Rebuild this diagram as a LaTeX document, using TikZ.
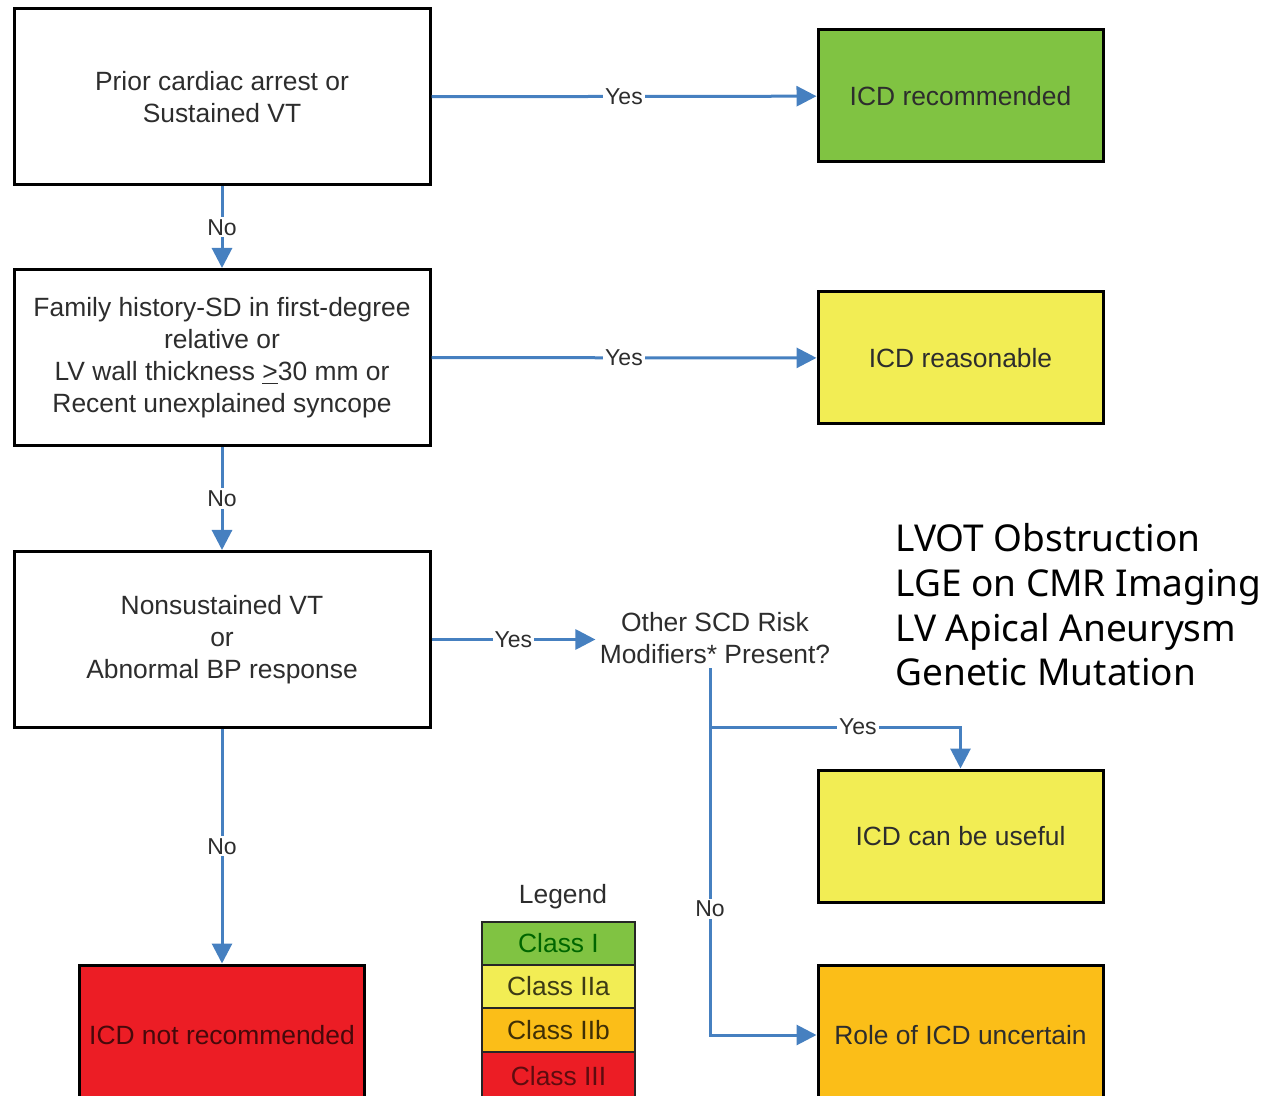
\documentclass[tikz,border=0pt]{standalone}
\usepackage{fontspec}
\setmainfont{Liberation Sans}
\newfontfamily\listfont{Noto Sans}
\usetikzlibrary{positioning, arrows.meta, calc}
\definecolor{cArrow}{RGB}{70,128,192}
\definecolor{cGreen}{RGB}{128,195,66}
\definecolor{cYellow}{RGB}{242,237,84}
\definecolor{cOrange}{RGB}{251,190,24}
\definecolor{cRed}{RGB}{236,29,37}
\definecolor{cText}{RGB}{45,45,45}

\begin{document}
\begin{tikzpicture}[x=0.5pt, y=-0.5pt,
    every node/.style={font=\fontsize{13.2}{16}\selectfont, text=cText},
    question/.style={draw=black, line width=1.5pt, fill=white, align=center,
                     minimum width=208pt, minimum height=88pt, inner sep=2pt},
    outcome/.style={draw=black, line width=1.5pt, align=center,
                    minimum width=142.5pt, minimum height=66pt, inner sep=2pt},
    legendrow/.style={draw=black!85, line width=0.8pt, minimum width=76.5pt,
                      minimum height=21.75pt, inner sep=0pt},
    flow/.style={draw=cArrow, line width=1.5pt, -{Triangle[length=10pt, width=10pt]}},
    answer/.style={fill=white, inner sep=1pt, font=\fontsize{11.5}{13}\selectfont}]

    \useasboundingbox (0,0) rectangle (1264,1096);
    \clip (0,0) rectangle (1264,1096);

    % Decision boxes on the left
    \node[question] (arrest) at (222,97) {Prior cardiac arrest or\\Sustained VT};
    \node[question] (family) at (222,357.5) {Family history-SD in first-degree\\relative or\\LV wall thickness \underline{>}30 mm or\\Recent unexplained syncope};
    \node[question] (nsvt) at (222,639.5) {Nonsustained VT\\or\\Abnormal BP response};
    \node[align=center, inner sep=2pt] (modifiers) at (715,638) {Other SCD Risk\\Modifiers* Present?};

    % Outcome boxes
    \node[outcome, fill=cGreen] (recommended) at (960.5,96) {ICD recommended};
    \node[outcome, fill=cYellow] (reasonable) at (960.5,358) {ICD reasonable};
    \node[outcome, fill=cYellow] (useful) at (960.5,836) {ICD can be useful};
    \node[outcome, fill=cOrange, minimum height=70pt] (uncertain) at (960.5,1035) {Role of ICD uncertain};
    \node[outcome, fill=cRed, minimum height=70pt, text=black!70!cRed] (notrec) at (222,1035) {ICD not recommended};

    % Risk modifiers list
    \node[anchor=west, align=left, inner sep=0pt, text=black,
          font=\listfont\fontsize{18.5}{22.3}\selectfont] (list) at (895,605)
        {LVOT Obstruction\\LGE on CMR Imaging\\LV Apical Aneurysm\\Genetic Mutation};

    % Legend
    \node (legend) at (563,897) {Legend};
    \node[legendrow, fill=cGreen, text=black!60!green] (classI) at (558.5,943.5) {Class I};
    \node[legendrow, fill=cYellow, text=black!75!cYellow] (classIIa) at (558.5,986.5) {Class IIa};
    \node[legendrow, fill=cOrange, text=black!75!cOrange] (classIIb) at (558.5,1030) {Class IIb};
    \node[legendrow, fill=cRed, text=black!60!cRed, minimum height=24pt] (classIII) at (558.5,1076) {Class III};

    % Connectors
    \draw[flow] (arrest) -- node[answer] {Yes} (recommended);
    \draw[flow] (family) -- node[answer] {Yes} (reasonable);
    \draw[flow] (nsvt.east) -- node[answer] {Yes} (modifiers.west |- nsvt.east);
    \draw[flow] (arrest) -- node[answer] {No} (family);
    \draw[flow] (family) -- node[answer] {No} (nsvt);
    \draw[flow] (nsvt) -- node[answer] {No} (notrec);

    \coordinate (split) at (710,727);
    \draw[draw=cArrow, line width=1.5pt] (split |- modifiers.south) -- (split);
    \draw[flow] (split) -- node[answer, pos=0.59] {Yes} (split -| useful) -- (useful.north);
    \draw[flow] (split) -- node[answer, pos=0.59] {No} (split |- uncertain.west) -- (uncertain.west);

\end{tikzpicture}
\end{document}
